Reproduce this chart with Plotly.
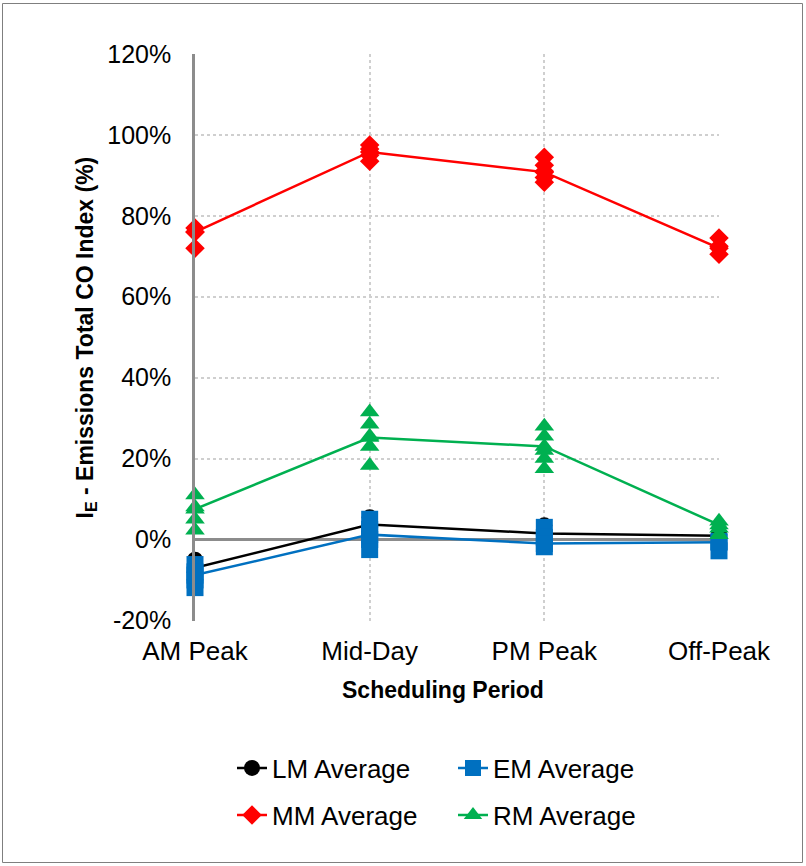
import plotly.graph_objects as go

categories = ["AM Peak", "Mid-Day", "PM Peak", "Off-Peak"]

lm_avg = [-7.0, 3.7, 1.5, 0.9]
em_avg = [-8.8, 1.2, -1.0, -0.7]
mm_avg = [76.0, 95.8, 90.8, 72.0]
rm_avg = [7.5, 25.2, 23.0, 3.6]

lm_points = [[-5.0, -7.0, -9.0], [5.5, 3.5, 2.0], [3.5, 1.5, 0.0], [1.2, 0.5]]
em_points = [[-6.2, -8.0, -10.0, -11.9], [5.0, 2.5, 0.0, -2.5], [3.0, 0.5, -1.8], [-0.5, -2.8]]
mm_points = [[77.0, 76.0, 72.0], [97.5, 96.5, 95.0, 93.5], [94.5, 92.5, 91.0, 89.5, 88.3], [74.5, 72.5, 70.5]]
rm_points = [[11.0, 8.0, 5.0, 2.3], [31.5, 28.5, 25.5, 23.0, 18.3], [28.0, 25.5, 22.0, 20.0, 17.5], [4.5, 2.8, 1.2]]

y_ticks = [-20, 0, 20, 40, 60, 80, 100, 120]
y_tick_labels = ["-20%", "0%", "20%", "40%", "60%", "80%", "100%", "120%"]

series = [
    ("LM Average", lm_avg, lm_points, "#000000", "circle", 16, "legend"),
    ("EM Average", em_avg, em_points, "#0070C0", "square", 17, "legend"),
    ("MM Average", mm_avg, mm_points, "#FF0000", "diamond", 15, "legend2"),
    ("RM Average", rm_avg, rm_points, "#00B050", "triangle-up", 17, "legend2"),
]

FONT = "Arial, Liberation Sans, sans-serif"
L, R, T, B = 195, 87, 54, 245
W, H = 806, 866
PW, PH = W - L - R, H - T - B


def px_x(x):
    return (x - L) / PW


def px_y(y):
    return 1 - (y - T) / PH


fig = go.Figure()
xi = list(range(len(categories)))
for name, avg, pts, color, sym, size, leg in series:
    px_list, py_list = [], []
    for i, vals in enumerate(pts):
        for v in vals:
            px_list.append(i)
            py_list.append(v)
    fig.add_trace(go.Scatter(
        x=px_list, y=py_list, mode="markers", showlegend=False,
        marker=dict(symbol=sym, size=size, color=color, line=dict(width=0)),
        cliponaxis=False, hoverinfo="skip"))
    fig.add_trace(go.Scatter(
        x=xi, y=avg, mode="lines+markers", name=name, legend=leg,
        line=dict(color=color, width=2.5),
        marker=dict(symbol=sym, size=size, color=color, line=dict(width=0)),
        cliponaxis=False))

legend_common = dict(
    orientation="h", xanchor="left", yanchor="middle",
    entrywidth=176, entrywidthmode="pixels",
    font=dict(family=FONT, size=26, color="#000000"),
    bgcolor="rgba(0,0,0,0)", itemsizing="trace",
)

fig.update_layout(
    width=W, height=H,
    margin=dict(l=L, r=R, t=T, b=B, autoexpand=False),
    paper_bgcolor="white", plot_bgcolor="white",
    font=dict(family=FONT, size=24, color="#000000"),
    showlegend=True,
    legend=dict(x=px_x(232), y=px_y(768), **legend_common),
    legend2=dict(x=px_x(232), y=px_y(815), **legend_common),
    xaxis=dict(
        range=[0, 3], tickvals=xi, ticktext=categories,
        showgrid=True, gridcolor="#cfcfcf", griddash="dot", gridwidth=2,
        zeroline=False, showline=False, ticks="",
        tickfont=dict(family=FONT, size=26, color="#000000"),
        ticklabelstandoff=12,
    ),
    yaxis=dict(
        range=[-20.15, 120], tickvals=y_ticks, ticktext=y_tick_labels,
        showgrid=True, gridcolor="#cfcfcf", griddash="dot", gridwidth=2,
        zeroline=True, zerolinecolor="#8c8c8c", zerolinewidth=2.5,
        showline=True, linecolor="#8c8c8c", linewidth=2.5, ticks="",
        tickfont=dict(family=FONT, size=25, color="#000000"),
        ticklabelstandoff=16,
    ),
    annotations=[
        dict(text="<b>I<sub>E</sub> - Emissions Total CO Index (%)</b>",
             xref="paper", yref="paper", x=px_x(86), y=0.5,
             xanchor="center", yanchor="middle", textangle=-90, showarrow=False,
             font=dict(family=FONT, size=23, color="#000000")),
        dict(text="<b>Scheduling Period</b>",
             xref="paper", yref="paper", x=px_x(443), y=px_y(690),
             xanchor="center", yanchor="middle", showarrow=False,
             font=dict(family=FONT, size=23, color="#000000")),
    ],
    shapes=[dict(type="rect", xref="paper", yref="paper",
                 x0=px_x(2.5), x1=px_x(802.5), y0=px_y(862.5), y1=px_y(3.5),
                 line=dict(color="#7f7f7f", width=1), fillcolor="rgba(0,0,0,0)")],
)

fig.write_html("out.html")
